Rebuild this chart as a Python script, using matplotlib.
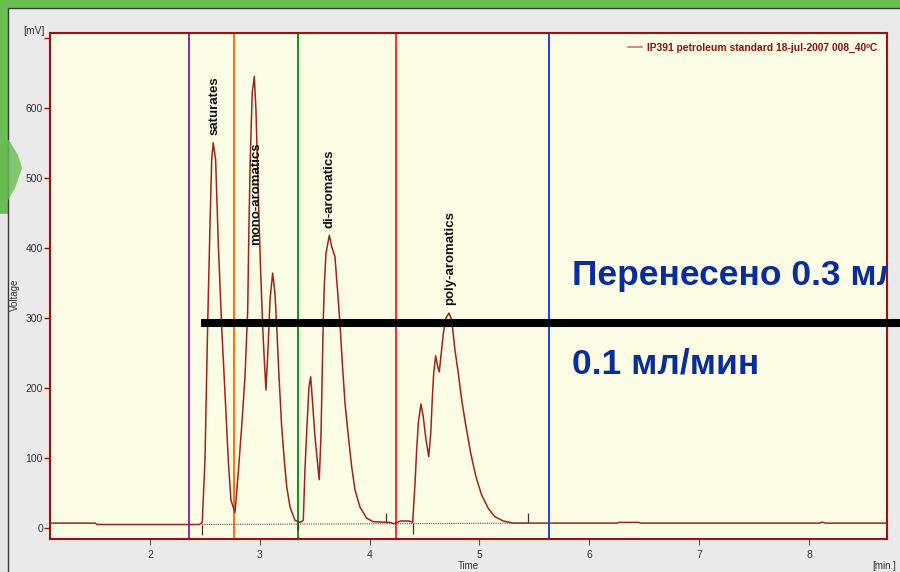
import numpy as np
import matplotlib
matplotlib.use('Agg')
import matplotlib.pyplot as plt
from matplotlib.patches import Rectangle, Polygon

plt.rcParams['font.family'] = ['Liberation Sans', 'DejaVu Sans']

# ---------- Chromatogram trace (time in min, signal in mV) ----------
time_min = [1.09, 1.50, 1.52, 2.45, 2.476,
            2.501, 2.525, 2.546, 2.562, 2.576, 2.598, 2.622, 2.653, 2.683, 2.713, 2.737, 2.774,
            2.804, 2.835, 2.865, 2.890, 2.901, 2.913, 2.931, 2.950, 2.965, 2.986, 3.004, 3.026, 3.041, 3.056,
            3.077, 3.093, 3.117, 3.138, 3.154, 3.175, 3.199, 3.223, 3.245, 3.275, 3.320, 3.366,
            3.396, 3.411, 3.432, 3.448, 3.463, 3.481, 3.502, 3.523, 3.541, 3.557, 3.569, 3.578, 3.587,
            3.602, 3.633, 3.654, 3.684, 3.705, 3.730, 3.755, 3.776, 3.806, 3.836, 3.867, 3.912, 3.973,
            4.033, 4.185, 4.22, 4.28, 4.36, 4.392,
            4.413, 4.428, 4.443, 4.467, 4.488, 4.513, 4.538, 4.556, 4.570, 4.583, 4.601, 4.620, 4.634,
            4.652, 4.671, 4.695, 4.722, 4.747, 4.777, 4.807, 4.838, 4.877, 4.920, 4.968, 5.020, 5.080,
            5.141, 5.217, 5.308, 6.25, 6.27, 6.45, 6.47, 8.10, 8.12, 8.15, 8.71]
voltage_mv = [7, 7, 5, 5, 8,
              97, 287, 430, 526, 550, 526, 407, 287, 193, 97, 40, 22,
              79, 145, 216, 311, 430, 526, 621, 645, 597, 478, 383, 288, 240, 197,
              264, 326, 364, 335, 288, 216, 145, 97, 59, 30, 11, 8,
              11, 83, 154, 202, 216, 178, 131, 97, 69, 131, 226, 297, 345,
              392, 418, 402, 388, 345, 292, 226, 178, 131, 88, 54, 30, 14,
              9, 8, 6, 10, 10, 8,
              64, 111, 150, 177, 159, 126, 102, 135, 183, 221, 246, 230, 223,
              250, 278, 300, 307, 297, 254, 221, 183, 145, 107, 73, 47, 28,
              16, 10, 7, 7, 8, 8, 7, 7, 8.5, 7, 7]

# ---------- Fraction cut lines ----------
cut_times = [2.355, 2.765, 3.350, 4.237, 5.632]
cut_colors = ['#8e2a9a', '#ff7010', '#10921a', '#ff2a2a', '#1a3cff']

# ---------- Peak labels ----------
peak_names = ['saturates', 'mono-aromatics', 'di-aromatics', 'poly-aromatics']
label_t = [2.585, 2.963, 3.639, 4.735]
label_mv = [561, 404, 429, 319]

# ---------- Integration marks ----------
base_t = [2.476, 5.445]
base_mv = [5, 7]
mark_t = [2.476, 3.350, 4.145, 4.392, 5.445]
mark_lo = [-10, -3, 7, -8, 7]
mark_hi = [5, 9, 21, 7, 21]

y_ticks = [0, 100, 200, 300, 400, 500, 600, 700]
y_labels = ['0', '100', '200', '300', '400', '500', '600', '']
x_ticks = [2, 3, 4, 5, 6, 7, 8]

legend_text = 'IP391 petroleum standard 18-jul-2007 008_40ºC'
note_line1 = 'Перенесено 0.3 мл'
note_line2 = '0.1 мл/мин'

# ---------- Figure & slide background ----------
fig = plt.figure(figsize=(9, 5.72), dpi=100)
bg = fig.add_axes([0, 0, 1, 1], zorder=0)
bg.axis('off')
bg.add_patch(Rectangle((0, 0), 900, 572, color='#6abd52'))
grad = np.linspace(0, 1, 256).reshape(1, -1)
bg.imshow(grad, extent=(0, 900, 8, 0), aspect='auto',
          cmap=matplotlib.colors.LinearSegmentedColormap.from_list('g', ['#5fb646', '#b4dca4']))
bg.add_patch(Rectangle((0, 214), 8, 360, color='#e6e6e6'))
bg.add_patch(Rectangle((8, 8), 893, 566, facecolor='#eaeaea', edgecolor='#3a3a3a', lw=1))
bg.add_patch(Polygon([(0, 140), (9, 140), (18, 155), (22, 168), (15, 188), (6, 204), (0, 212)],
                     closed=True, color='#6abd52', alpha=0.8, lw=0))
bg.set_xlim(0, 900)
bg.set_ylim(572, 0)

# ---------- Chart ----------
ax = fig.add_axes([50 / 900, 1 - 539 / 572, 837 / 900, 506 / 572], zorder=1)
ax.set_facecolor('#fdfde5')
ax.set_xlim(1.09, 8.71)
ax.set_ylim(-15.7, 707)

for t, c in zip(cut_times, cut_colors):
    ax.axvline(t, color=c, lw=1.4, zorder=2)

ax.plot(base_t, base_mv, color='#555555', lw=0.8, ls=(0, (1, 1)), zorder=3)
ax.vlines(mark_t, mark_lo, mark_hi, color='#333333', lw=0.9, zorder=3)
ax.plot(time_min, voltage_mv, color='#9a2420', lw=1.1, zorder=4,
        label=legend_text)

for name, t, v in zip(peak_names, label_t, label_mv):
    ax.text(t, v, name, rotation=90, ha='center', va='bottom',
            fontsize=9.5, fontweight='bold', color='#111111', zorder=5)

leg = ax.legend(loc='upper right', frameon=False, handlelength=1.3, handletextpad=0.5,
                prop={'weight': 'bold', 'size': 7.4}, borderaxespad=0.55)
for txt in leg.get_texts():
    txt.set_color('#8b1010')
leg.get_lines()[0].set_color('#c07060')

for s in ax.spines.values():
    s.set_color('#a01010')
    s.set_linewidth(1.5)

ax.set_yticks(y_ticks)
ax.set_yticklabels(y_labels)
ax.set_xticks(x_ticks)
ax.tick_params(axis='y', colors='#a01010', labelcolor='#333333', length=4, width=1, labelsize=7.5, pad=1)
ax.tick_params(axis='x', colors='#555555', labelcolor='#333333', length=4, width=0.8, labelsize=7.5, pad=4)

fig.text(34 / 900, 1 - 31 / 572, '[mV]', ha='center', va='center', fontsize=7.5, color='#333333')
fig.text(884 / 900, 1 - 566 / 572, '[min.]', ha='center', va='center', fontsize=7, color='#333333')
fig.text(468 / 900, 1 - 566 / 572, 'Time', ha='center', va='center', fontsize=7, color='#333333')
fig.text(15 / 900, 1 - 295 / 572, 'Voltage', rotation=90, ha='center', va='center',
         fontsize=7, color='#333333')

# ---------- Slide overlay ----------
ax.plot([2.465, 8.83], [293, 293], color='black', lw=5.8, solid_capstyle='butt',
        clip_on=False, zorder=6)
ax.text(5.842, 347, note_line1, fontsize=25.5, fontweight='bold', color='#0a2d9e',
        ha='left', va='baseline', clip_on=True, zorder=7)
ax.text(5.842, 221, note_line2, fontsize=25.5, fontweight='bold', color='#0a2d9e',
        ha='left', va='baseline', clip_on=True, zorder=7)

fig.savefig('out.png', dpi=100)
